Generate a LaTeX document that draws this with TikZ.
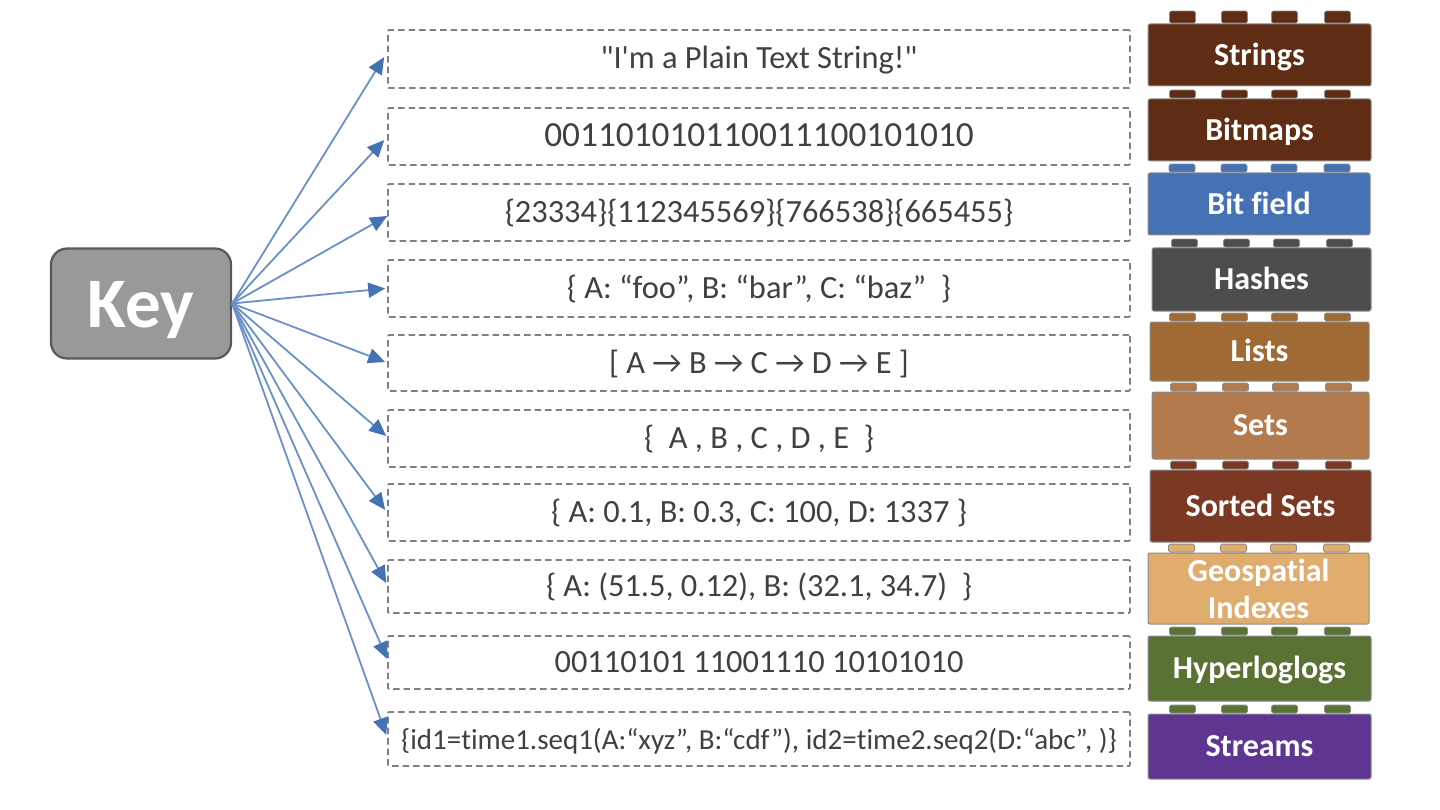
\documentclass[tikz,border=0pt]{standalone}
\usepackage{fontspec}
\setmainfont{Carlito}
\newfontfamily\valfont{Carlito}[Ligatures=NoCommon]
\usetikzlibrary{arrows.meta}
\definecolor{brickbrown}{HTML}{5F2C14}
\definecolor{brickblue}{HTML}{4472B4}
\definecolor{brickgray}{HTML}{4D4D4D}
\definecolor{bricklists}{HTML}{A06A35}
\definecolor{bricksets}{HTML}{B37B4D}
\definecolor{bricksorted}{HTML}{7B3822}
\definecolor{brickgeo}{HTML}{E0AD6E}
\definecolor{brickgreen}{HTML}{5A7233}
\definecolor{brickpurple}{HTML}{5E3692}
\definecolor{arrowblue}{HTML}{6A90C9}
\tikzset{
    keybox/.style={rectangle,rounded corners=16,draw=black!65,line width=2.2,fill=black!40,text=white,font=\fontsize{71}{71}\selectfont\bfseries,minimum width=180,minimum height=110,text height=66,text depth=19,inner sep=0pt},
    valbox/.style={rectangle,rounded corners=1,draw=black!50,dashed,dash pattern=on 6.5 off 4,line width=1.6,text=black!75,font=\valfont\fontsize{32.4}{32.4}\selectfont,minimum width=742,text height=28,text depth=8,inner sep=0pt},
    brick/.style={rectangle,rounded corners=2,draw=black!45,line width=1,text=white,font=\valfont\fontsize{32}{37}\selectfont\bfseries,align=center,inner sep=0pt},
    brickone/.style={brick,text height=30,text depth=9.5},
    stud/.style={rectangle,rounded corners=1.5,draw=black!45,line width=0.8,minimum width=26,inner sep=0pt,anchor=south},
    directed/.style={draw=arrowblue,line width=1.8,arrows={-Triangle[length=17,width=15,color=brickblue]}},
    }
\newcommand{\studs}[3]{%
    \node[stud,fill=#2,minimum height=#3] (#1s1) at ([xshift=-77]#1.north) {};
    \node[stud,fill=#2,minimum height=#3] (#1s2) at ([xshift=-25]#1.north) {};
    \node[stud,fill=#2,minimum height=#3] (#1s3) at ([xshift=25]#1.north) {};
    \node[stud,fill=#2,minimum height=#3] (#1s4) at ([xshift=78]#1.north) {};
}

\begin{document}
\begin{tikzpicture}[x=1pt,y=-1pt]
    \useasboundingbox (0,0) rectangle (1440,810);

    \node[keybox] (key) at (141,303.5) {Key};

    \node[valbox,minimum height=58] (strval) at (759,59) {"I'm a Plain Text String!"};
    \node[valbox,minimum height=57,font=\valfont\fontsize{35.3}{35.3}\selectfont] (bitval) at (759,136.5) {001101010110011100101010};
    \node[valbox,minimum height=57] (fieldval) at (759,212.5) {\{23334\}\{112345569\}\{766538\}\{665455\}};
    \node[valbox,minimum height=57] (hashval) at (759,288.5) {\{ A: “foo”, B: “bar”, C: “baz”\ \ \}};
    \node[valbox,minimum height=56] (listval) at (759,363) {[ A → B → C → D → E ]};
    \node[valbox,minimum height=57] (setval) at (759,438.5) {\{\ \ A , B , C , D , E\ \ \}};
    \node[valbox,minimum height=57] (sortval) at (759,512.5) {\{ A: 0.1, B: 0.3, C: 100, D: 1337 \}};
    \node[valbox,minimum height=53] (geoval) at (759,586.5) {\{ A: (51.5, 0.12), B: (32.1, 34.7)\ \ \}};
    \node[valbox,minimum height=53] (hyperval) at (759,662.5) {00110101 11001110 10101010};
    \node[valbox,minimum height=54,font=\valfont\fontsize{29}{29}\selectfont] (streamval) at (759,739) {\{id1=time1.seq1(A:“xyz”, B:“cdf”), id2=time2.seq2(D:“abc”, )\}};

    \node[brickone,fill=brickbrown,minimum width=223,minimum height=62] (strings) at (1259.5,55) {Strings};
    \node[brickone,fill=brickbrown,minimum width=223,minimum height=62] (bitmaps) at (1259.5,130) {Bitmaps};
    \node[brickone,fill=brickblue,minimum width=222,minimum height=62] (bitfield) at (1259,204) {Bit field};
    \node[brickone,fill=brickgray,minimum width=219,minimum height=63] (hashes) at (1261.5,279.5) {Hashes};
    \node[brickone,fill=bricklists,minimum width=219,minimum height=59] (lists) at (1259.5,351.5) {Lists};
    \node[brickone,fill=bricksets,minimum width=217,minimum height=67] (sets) at (1260.5,425.5) {Sets};
    \node[brickone,fill=bricksorted,minimum width=221,minimum height=72] (sorted) at (1260.5,506) {Sorted Sets};
    \node[brick,fill=brickgeo,minimum width=221,minimum height=71] (geo) at (1258.5,588.5) {Geospatial\\Indexes};
    \node[brickone,fill=brickgreen,minimum width=223,minimum height=65] (hyper) at (1259.5,668.5) {Hyperloglogs};
    \node[brickone,fill=brickpurple,minimum width=223,minimum height=65] (streams) at (1259.5,746.5) {Streams};

    \studs{strings}{brickbrown}{12}
    \studs{bitmaps}{brickbrown}{8}
    \studs{bitfield}{brickblue}{8}
    \studs{hashes}{brickgray}{8}
    \studs{lists}{bricklists}{8}
    \studs{sets}{bricksets}{8}
    \studs{sorted}{bricksorted}{8}
    \studs{geo}{brickgeo}{8}
    \studs{hyper}{brickgreen}{8}
    \studs{streams}{brickgreen}{8}

    \draw[directed] (key.east) -- ([xshift=-3,yshift=2]strval.west);
    \draw[directed] (key.east) -- ([xshift=-3,yshift=-3.5]bitval.west);
    \draw[directed] (key.east) -- ([yshift=-3.5]fieldval.west);
    \draw[directed] (key.east) -- ([xshift=-2]hashval.west);
    \draw[directed] (key.east) -- ([xshift=-2,yshift=1]listval.west);
    \draw[directed] (key.east) -- ([xshift=-1,yshift=2.5]setval.west);
    \draw[directed] (key.east) -- ([xshift=-2,yshift=2.5]sortval.west);
    \draw[directed] (key.east) -- ([xshift=-1,yshift=3.5]geoval.west);
    \draw[directed] (key.east) -- ([yshift=3.5]hyperval.west);
    \draw[directed] (key.east) -- ([xshift=-1,yshift=4]streamval.west);
\end{tikzpicture}
\end{document}
